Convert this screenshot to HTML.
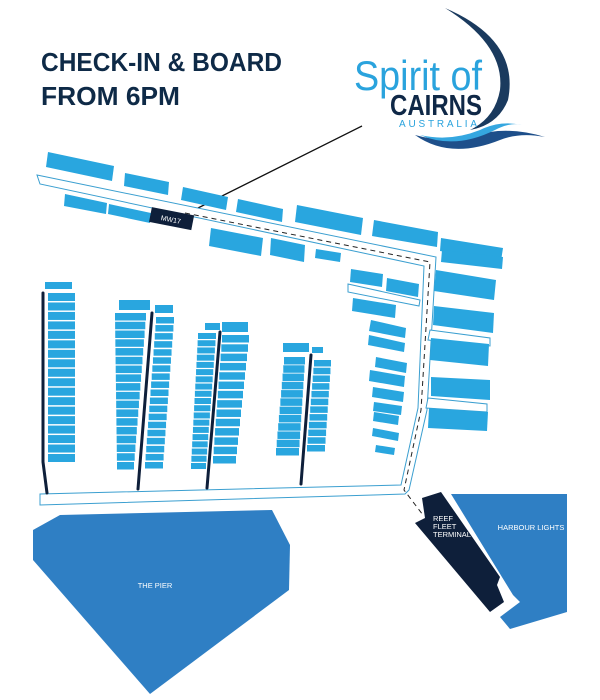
<!DOCTYPE html>
<html><head><meta charset="utf-8"><style>
html,body{margin:0;padding:0;background:#fff;width:600px;height:700px;overflow:hidden}
svg{display:block}
text{font-family:"Liberation Sans",sans-serif}
</style></head><body>
<svg id="s" width="600" height="700" viewBox="0 0 600 700" xmlns="http://www.w3.org/2000/svg">
<text x="41" y="71" font-size="26" font-weight="bold" fill="#0e2a47" textLength="241" lengthAdjust="spacingAndGlyphs">CHECK-IN &amp; BOARD</text>
<text x="41" y="105" font-size="26" font-weight="bold" fill="#0e2a47" textLength="139" lengthAdjust="spacingAndGlyphs">FROM 6PM</text>
<!-- logo -->
<path d="M445,8 Q520,40 508,100 Q498,125 470,130 Q495,118 500,90 Q505,45 445,8 Z" fill="#1a3a5e"/>
<path d="M415,135 Q450,160 500,140 Q520,132 545,137 Q515,128 490,132 Q450,145 415,135 Z" fill="#1e4f8a"/>
<path d="M420,135 Q455,150 495,130 Q510,122 522,125 Q500,120 480,130 Q450,142 420,135 Z" fill="#35a7e0"/>
<text x="354" y="90" font-size="42" fill="#2aa3dd" textLength="128" lengthAdjust="spacingAndGlyphs">Spirit of</text>
<text x="390" y="115" font-size="29" font-weight="bold" fill="#0f2847" textLength="92" lengthAdjust="spacingAndGlyphs">CAIRNS</text>
<text x="399" y="127" font-size="10" fill="#2aa3dd" textLength="78" lengthAdjust="spacing">AUSTRALIA</text>
<line x1="186" y1="214" x2="362" y2="126" stroke="#111" stroke-width="1.3"/>
<!-- walkways -->
<g fill="#fff" stroke="#3b9fd0" stroke-width="1">
<polygon points="37,175 436,257 427,410 409,490 405,494 40,505 40,494 401,485 418,408 424,266 40,184"/>
<polygon points="348,284 420,300 419,306 348,292"/>
<polygon points="430,330 490,338 490,346 428,340"/>
<polygon points="428,398 487,404 487,412 426,408"/>
</g>
<polyline points="185,213 430,262 421,410 404,490 423,515" fill="none" stroke="#222" stroke-width="1" stroke-dasharray="5,4"/>
<g fill="#29a6df" id="b">
<polygon points="48,152 114,166 112,181 46,167"/>
<polygon points="125,173 169,182 168,195 124,186"/>
<polygon points="183,187 228,197 226,210 181,200"/>
<polygon points="238,199 283,209 282,222 236,212"/>
<polygon points="297,205 363,218 361,235 295,222"/>
<polygon points="374,220 438,232 437,247 372,236"/>
<polygon points="441,238 503,248 501,261 440,251"/>
<polygon points="65,194 107,203 106,214 64,206"/>
<polygon points="109,204 151,213 150,223 108,214"/>
<polygon points="211,228 263,238 261,256 209,246"/>
<polygon points="271,238 305,245 304,262 270,255"/>
<polygon points="316,249 341,253 340,262 315,258"/>
<polygon points="351,269 383,274 382,287 350,282"/>
<polygon points="387,278 419,284 418,297 386,291"/>
<polygon points="353,298 396,305 395,318 352,311"/>
<polygon points="371,320 406,328 405,338 369,331"/>
<polygon points="369,335 405,343 404,352 368,345"/>
<polygon points="376,357 407,363 406,373 375,367"/>
<polygon points="370,370 405,376 404,387 369,381"/>
<polygon points="373,387 404,392 403,402 372,397"/>
<polygon points="374,402 402,406 401,415 373,411"/>
<polygon points="374,412 399,416 398,425 373,421"/>
<polygon points="373,428 399,433 398,441 372,436"/>
<polygon points="376,445 395,448 394,455 375,452"/>
<polygon points="442,250 503,257 502,269 441,262"/>
<polygon points="436,270 496,280 494,300 434,291"/>
<polygon points="434,306 494,313 493,333 433,325"/>
<polygon points="431,338 489,344 488,366 430,360"/>
<polygon points="431,377 490,380 490,400 431,396"/>
<polygon points="429,408 488,412 487,431 428,428"/>
<rect x="45" y="282" width="27" height="7"/>
</g>
<rect x="150" y="211" width="43" height="15" fill="#0e1f3a" transform="rotate(11 171 219)"/>
<text x="171" y="222" font-size="7" fill="#fff" text-anchor="middle" transform="rotate(11 171 219)">MW17</text>
<g stroke="#0e1f3a" stroke-width="3" fill="none" stroke-linecap="round">
<polyline points="43,293 43,462 47,493"/>
<line x1="152" y1="313" x2="138" y2="489"/>
<line x1="220" y1="332" x2="207" y2="488"/>
<line x1="311" y1="355" x2="301" y2="484"/>
</g>
<!-- land -->
<polygon points="33,530 60,515 272,510 290,545 289,590 150,694 33,560" fill="#2f7fc4"/>
<text x="155" y="588" font-size="7.5" fill="#fff" text-anchor="middle">THE PIER</text>
<polygon points="451,494 567,494 567,612 510,629 500,617 520,602 513,595" fill="#2f7fc4"/>
<text x="531" y="530" font-size="7.5" fill="#fff" text-anchor="middle">HARBOUR LIGHTS</text>
<polygon points="422,498 441,492 500,577 497,585 504,602 490,612 415,523 425,518" fill="#0e1f3a"/>
<text font-size="7.5" fill="#fff"><tspan x="433" y="521">REEF</tspan><tspan x="433" y="529">FLEET</tspan><tspan x="433" y="537">TERMINAL</tspan></text>
</svg>
<script>
var g=document.getElementById('b');
function col(n,y0,y1,xa0,xb0,xa1,xb1,h){
 for(var i=0;i<n;i++){var t=n>1?i/(n-1):0;var y=y0+(y1-y0)*t;
  var xa=xa0+(xa1-xa0)*t,xb=xb0+(xb1-xb0)*t;
  var r=document.createElementNS('http://www.w3.org/2000/svg','rect');
  r.setAttribute('x',xa);r.setAttribute('y',y);r.setAttribute('width',xb-xa);r.setAttribute('height',h);g.appendChild(r);}
}
col(18,293,454,48,75,48,75,8);
col(18,313,462,115,146,117,134,7.5);
col(19,317,462,156,174,145,163,6.5);
col(19,333,463,198,216,191,206,6);
col(14,335,456,222,249,213,236,7.5);
col(12,357,448,284,305,276,299,7.5);
col(12,360,445,314,331,307,325,6.5);
[[119,300,150,310],[155,305,173,313],[205,323,220,330],[222,322,248,332],[283,343,309,352],[312,347,323,353]].forEach(function(a){col(1,a[1],a[1],a[0],a[2],a[0],a[2],a[3]-a[1]);});
</script>
</body></html>
